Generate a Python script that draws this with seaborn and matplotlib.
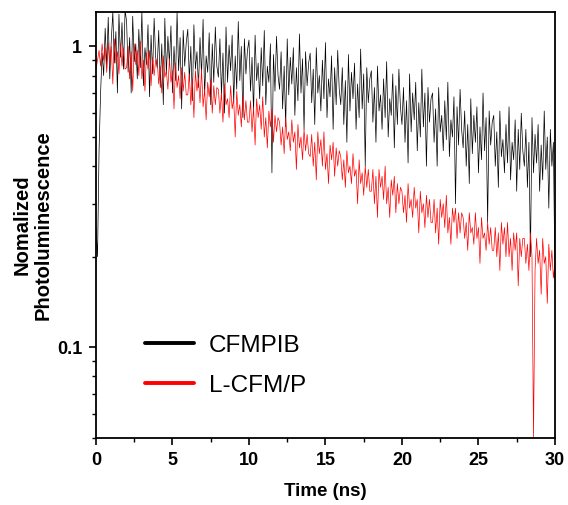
import numpy as np
import pandas as pd
import matplotlib
matplotlib.use('Agg')
import matplotlib.pyplot as plt
import matplotlib.ticker as mticker
import seaborn as sns

# time axis (ns), one sample every 0.1 ns
time_ns = np.linspace(0, 30, 301)

# normalized PL, 20 samples (2 ns) per row
cfmpib = [
    0.25, 0.20, 0.45, 0.70, 0.95, 0.80, 1.15, 0.85, 1.25, 0.78, 1.05, 1.30, 0.88, 1.12, 0.70, 1.28, 0.92, 1.20, 0.84, 1.32,
    1.21, 0.82, 1.07, 0.70, 1.26, 0.89, 1.02, 0.78, 1.14, 0.85, 1.31, 0.74, 0.99, 0.87, 1.18, 0.68, 1.09, 0.81, 1.24, 0.92,
    0.85, 1.13, 0.73, 1.02, 0.64, 1.24, 0.81, 1.08, 0.88, 1.17, 0.70, 1.00, 0.77, 1.30, 0.83, 1.07, 0.62, 1.13, 0.86, 1.03,
    1.14, 0.77, 1.00, 0.66, 1.18, 0.84, 0.96, 0.73, 1.07, 0.80, 1.23, 0.69, 0.93, 0.82, 1.11, 0.64, 1.02, 0.76, 1.16, 0.86,
    0.79, 1.06, 0.69, 0.95, 0.60, 1.16, 0.76, 1.01, 0.83, 1.09, 0.65, 0.93, 0.72, 1.21, 0.77, 1.00, 0.58, 1.06, 0.81, 0.97,
    1.05, 0.71, 0.92, 0.60, 1.09, 0.77, 0.88, 0.67, 0.99, 0.74, 1.13, 0.64, 0.86, 0.76, 1.02, 0.38, 0.94, 0.71, 1.08, 0.80,
    0.72, 0.96, 0.62, 0.86, 0.54, 1.06, 0.69, 0.92, 0.75, 0.99, 0.59, 0.85, 0.66, 1.10, 0.70, 0.91, 0.53, 0.96, 0.74, 0.88,
    0.95, 0.65, 0.84, 0.55, 0.99, 0.70, 0.80, 0.61, 0.90, 0.67, 1.03, 0.58, 0.78, 0.68, 0.93, 0.53, 0.85, 0.64, 0.97, 0.72,
    0.64, 0.85, 0.55, 0.77, 0.48, 0.94, 0.61, 0.82, 0.67, 0.88, 0.53, 0.75, 0.58, 0.98, 0.62, 0.81, 0.40, 0.85, 0.65, 0.78,
    0.83, 0.56, 0.73, 0.48, 0.86, 0.61, 0.69, 0.53, 0.78, 0.58, 0.89, 0.50, 0.67, 0.59, 0.81, 0.46, 0.74, 0.55, 0.84, 0.63,
    0.55, 0.73, 0.48, 0.66, 0.41, 0.81, 0.52, 0.70, 0.57, 0.76, 0.45, 0.65, 0.50, 0.84, 0.54, 0.70, 0.40, 0.73, 0.56, 0.67,
    0.70, 0.48, 0.62, 0.40, 0.73, 0.52, 0.59, 0.45, 0.66, 0.49, 0.76, 0.43, 0.57, 0.50, 0.68, 0.30, 0.63, 0.47, 0.72, 0.53,
    0.46, 0.61, 0.40, 0.55, 0.35, 0.67, 0.44, 0.59, 0.48, 0.63, 0.38, 0.54, 0.42, 0.70, 0.45, 0.58, 0.26, 0.61, 0.47, 0.56,
    0.59, 0.40, 0.52, 0.34, 0.61, 0.43, 0.49, 0.38, 0.55, 0.41, 0.63, 0.36, 0.48, 0.42, 0.57, 0.33, 0.53, 0.39, 0.60, 0.45,
    0.40, 0.53, 0.34, 0.48, 0.20, 0.58, 0.38, 0.51, 0.41, 0.55, 0.33, 0.47, 0.36, 0.61, 0.39, 0.50, 0.29, 0.53, 0.40, 0.48,
    0.17,
]
lcfmp = [
    0.84, 0.90, 0.97, 0.86, 1.02, 0.90, 0.99, 0.82, 1.03, 0.88, 1.00, 0.75, 1.06, 0.88, 0.96, 0.81, 1.02, 0.86, 0.99, 0.84,
    0.85, 1.00, 0.78, 0.96, 0.71, 1.02, 0.87, 0.97, 0.80, 1.04, 0.78, 0.90, 0.71, 0.95, 0.84, 0.97, 0.74, 0.92, 0.80, 0.90,
    0.90, 0.75, 0.86, 0.70, 0.93, 0.79, 0.83, 0.72, 0.91, 0.76, 0.83, 0.62, 0.88, 0.73, 0.80, 0.67, 0.85, 0.71, 0.82, 0.69,
    0.69, 0.81, 0.64, 0.78, 0.58, 0.83, 0.71, 0.79, 0.65, 0.84, 0.63, 0.72, 0.57, 0.76, 0.68, 0.78, 0.60, 0.74, 0.64, 0.73,
    0.72, 0.60, 0.70, 0.56, 0.75, 0.64, 0.67, 0.58, 0.74, 0.62, 0.67, 0.50, 0.71, 0.59, 0.64, 0.54, 0.69, 0.57, 0.66, 0.56,
    0.56, 0.66, 0.52, 0.63, 0.47, 0.67, 0.58, 0.64, 0.53, 0.68, 0.50, 0.58, 0.46, 0.61, 0.54, 0.62, 0.48, 0.59, 0.52, 0.58,
    0.56, 0.47, 0.54, 0.44, 0.58, 0.49, 0.52, 0.45, 0.57, 0.48, 0.52, 0.39, 0.55, 0.46, 0.50, 0.42, 0.53, 0.45, 0.51, 0.44,
    0.43, 0.51, 0.40, 0.48, 0.36, 0.52, 0.44, 0.49, 0.40, 0.52, 0.39, 0.44, 0.35, 0.47, 0.42, 0.48, 0.37, 0.46, 0.40, 0.45,
    0.43, 0.36, 0.42, 0.34, 0.45, 0.38, 0.40, 0.35, 0.44, 0.37, 0.39, 0.30, 0.42, 0.35, 0.38, 0.32, 0.40, 0.34, 0.39, 0.33,
    0.33, 0.39, 0.30, 0.37, 0.27, 0.39, 0.34, 0.37, 0.31, 0.40, 0.30, 0.34, 0.27, 0.36, 0.32, 0.37, 0.28, 0.35, 0.30, 0.34,
    0.33, 0.28, 0.32, 0.26, 0.35, 0.29, 0.31, 0.27, 0.34, 0.29, 0.31, 0.24, 0.33, 0.28, 0.30, 0.25, 0.32, 0.27, 0.31, 0.26,
    0.26, 0.31, 0.24, 0.29, 0.22, 0.31, 0.27, 0.30, 0.25, 0.32, 0.24, 0.27, 0.22, 0.29, 0.26, 0.29, 0.23, 0.28, 0.24, 0.28,
    0.27, 0.23, 0.26, 0.21, 0.28, 0.24, 0.25, 0.22, 0.28, 0.23, 0.25, 0.19, 0.27, 0.23, 0.24, 0.21, 0.26, 0.22, 0.25, 0.21,
    0.21, 0.25, 0.20, 0.24, 0.18, 0.26, 0.22, 0.25, 0.20, 0.26, 0.20, 0.23, 0.18, 0.24, 0.21, 0.24, 0.16, 0.23, 0.20, 0.23,
    0.23, 0.19, 0.22, 0.18, 0.24, 0.20, 0.05, 0.18, 0.23, 0.19, 0.21, 0.15, 0.23, 0.19, 0.20, 0.14, 0.22, 0.18, 0.21, 0.17,
    0.19,
]
labels = ['CFMPIB', 'L-CFM/P']
colors = ['black', '#ff0000']

df = pd.concat([
    pd.DataFrame({'t': time_ns, 'pl': cfmpib, 'sample': labels[0]}),
    pd.DataFrame({'t': time_ns, 'pl': lcfmp, 'sample': labels[1]}),
])

sns.set_style('ticks')
plt.rcParams['font.family'] = ['Liberation Sans', 'DejaVu Sans']
plt.rcParams['text.color'] = 'black'
plt.rcParams['axes.labelcolor'] = 'black'
plt.rcParams['xtick.color'] = 'black'
plt.rcParams['ytick.color'] = 'black'
plt.rcParams['axes.edgecolor'] = 'black'

fig = plt.figure(figsize=(5.68, 5.05), dpi=100)
ax = fig.add_axes([0.169, 0.133, 0.808, 0.843])
sns.lineplot(data=df, x='t', y='pl', hue='sample', palette=colors,
             estimator=None, linewidth=0.5, legend=False, ax=ax)

ax.set_yscale('log')
ax.set_xlim(0, 30)
ax.set_ylim(0.05, 1.3)
ax.set_xticks([0, 5, 10, 15, 20, 25, 30])
ax.xaxis.set_minor_locator(mticker.MultipleLocator(2.5))
ax.set_yticks([0.1, 1])
ax.set_yticklabels(['0.1', '1'])
ax.yaxis.set_minor_formatter(mticker.NullFormatter())
ax.tick_params(which='major', direction='out', length=5, width=1.2,
               labelsize=13, pad=5)
ax.tick_params(which='minor', direction='out', length=3, width=1)
for lab in ax.get_xticklabels() + ax.get_yticklabels():
    lab.set_fontweight('bold')
for sp in ax.spines.values():
    sp.set_linewidth(1.3)

ax.set_xlabel('Time (ns)', fontsize=13.5, fontweight='bold')
ax.xaxis.set_label_coords(0.5, -0.105)
ax.set_ylabel('Nomalized\nPhotoluminescence', fontsize=14.5,
              fontweight='bold', linespacing=1.15)
ax.yaxis.set_label_coords(-0.094, 0.5)

handles = [plt.Line2D([], [], color=c, lw=2.8) for c in colors]
ax.legend(handles, labels, loc='lower left', bbox_to_anchor=(0.06, 0.045),
          frameon=False, fontsize=17.5, handlelength=2.0, handletextpad=0.6,
          labelspacing=0.75)

fig.savefig('out.png', dpi=100)
